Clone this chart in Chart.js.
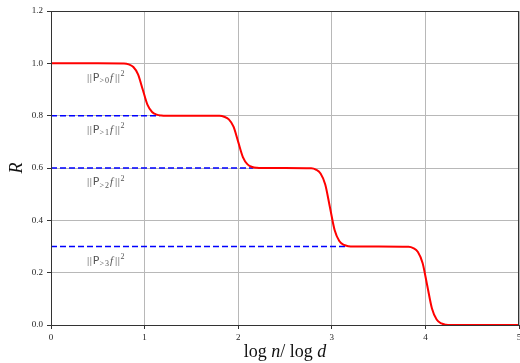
<!DOCTYPE html>
<html>
<head>
<meta charset="utf-8">
<script src="https://cdn.jsdelivr.net/npm/chart.js@4.4.1/dist/chart.umd.min.js"></script>
<style>
html,body{margin:0;padding:0;background:#fff;}
#wrap{width:520px;height:363px;position:relative;}
</style>
</head>
<body>
<div id="wrap"><canvas id="c" width="520" height="363"></canvas></div>
<script>
// ---- data ----
const curveX = [0, 0.5, 0.78, 0.83, 0.88, 0.93, 0.98, 1.03, 1.08, 1.13, 1.18, 1.23, 1.5,
                1.8, 1.85, 1.9, 1.95, 2.0, 2.05, 2.1, 2.15, 2.2, 2.25, 2.5,
                2.78, 2.83, 2.88, 2.93, 2.98, 3.03, 3.08, 3.13, 3.18, 3.23, 3.5,
                3.82, 3.87, 3.92, 3.97, 4.02, 4.07, 4.12, 4.17, 4.22, 4.27, 4.6, 5.0];
const curveR = [1.0, 1.0, 0.9993, 0.996, 0.986, 0.958, 0.9, 0.842, 0.814, 0.804, 0.8007, 0.8, 0.8,
                0.7993, 0.796, 0.786, 0.758, 0.7, 0.642, 0.614, 0.604, 0.6007, 0.6, 0.6,
                0.599, 0.594, 0.579, 0.537, 0.45, 0.363, 0.321, 0.306, 0.301, 0.3, 0.3,
                0.299, 0.294, 0.279, 0.237, 0.15, 0.063, 0.021, 0.006, 0.001, 0.0, 0.0, 0.0];
const levelValues = [0.8, 0.6, 0.3];
const levelEnds = [1.16, 2.16, 3.16];
const normLevels = [1.0, 0.8, 0.6, 0.3];
const normSubs = ['>0', '>1', '>2', '>3'];
const xTicks = [0, 1, 2, 3, 4, 5];
const yTicks = [0.0, 0.2, 0.4, 0.6, 0.8, 1.0, 1.2];

const datasets = [{
  data: curveX.map((x, i) => ({x: x, y: curveR[i]})),
  borderColor: '#ff0000', borderWidth: 2, pointRadius: 0,
  cubicInterpolationMode: 'monotone', fill: false, order: 0
}];
levelValues.forEach((v, i) => {
  datasets.push({
    data: [{x: 0, y: v}, {x: levelEnds[i], y: v}],
    borderColor: '#0000ff', borderWidth: 1.5, borderDash: [6, 3],
    pointRadius: 0, fill: false, order: 1
  });
});

const serif = '"Liberation Serif", "DejaVu Serif", serif';
const sans = '"DejaVu Sans", "Liberation Sans", sans-serif';

const decor = {
  id: 'decor',
  afterDraw(chart) {
    const ctx = chart.ctx, a = chart.chartArea;
    const xs = chart.scales.x, ys = chart.scales.y;
    ctx.save();
    // frame
    ctx.strokeStyle = '#333'; ctx.lineWidth = 1;
    ctx.strokeRect(a.left + 0.5, a.top + 0.5, a.right - a.left - 1, a.bottom - a.top);
    // norm labels
    ctx.fillStyle = '#555';
    ctx.textBaseline = 'alphabetic';
    normLevels.forEach((lv, i) => {
      let px = xs.getPixelForValue(0.385);
      const py = ys.getPixelForValue(lv - 0.066);
      const put = (t, f, dy, gap) => { ctx.font = f; ctx.fillText(t, px, py + (dy || 0)); px += ctx.measureText(t).width + (gap || 0); };
      put('|', '11px ' + serif, 0, 0.6);
      put('|', '11px ' + serif, 0, 0.6);
      put('P', '11px ' + sans, 0, 0.3);
      put(normSubs[i].charAt(0), '8px ' + serif, 2.5, 0.8);
      put(normSubs[i].charAt(1), '8px ' + serif, 2.5, 1.2);
      put('f', 'italic 11px ' + serif, 0, 1.8);
      put('|', '11px ' + serif, 0, 0.6);
      put('|', '11px ' + serif, 0, 0.6);
      put('2', '8px ' + serif, -4.5);
    });
    // x title
    ctx.fillStyle = '#111';
    const parts = [['log ', '18px ' + serif], ['n', 'italic 18px ' + serif], ['/ log ', '18px ' + serif], ['d', 'italic 18px ' + serif]];
    let w = 0;
    parts.forEach(p => { ctx.font = p[1]; w += ctx.measureText(p[0]).width; });
    let px = (a.left + a.right) / 2 - w / 2;
    parts.forEach(p => { ctx.font = p[1]; ctx.fillText(p[0], px, 357); px += ctx.measureText(p[0]).width; });
    // y title
    ctx.translate(22, (a.top + a.bottom) / 2);
    ctx.rotate(-Math.PI / 2);
    ctx.font = 'italic 18px ' + serif;
    ctx.textAlign = 'center';
    ctx.fillText('R', 0, 0);
    ctx.restore();
  }
};

new Chart(document.getElementById('c'), {
  type: 'line',
  data: {datasets: datasets},
  options: {
    responsive: false, animation: false,
    layout: {padding: {top: 11, right: 1, left: 0, bottom: 0}},
    plugins: {legend: {display: false}, tooltip: {enabled: false}},
    scales: {
      x: {
        type: 'linear', min: 0, max: 5,
        afterBuildTicks: s => { s.ticks = xTicks.map(v => ({value: v})); },
        afterFit: s => { s.height = 38; s.paddingLeft = 0; s.paddingRight = 0; },
        ticks: {color: '#222', font: {family: serif, size: 9}, padding: 3, maxRotation: 0,
                callback: v => String(v)},
        grid: {color: '#b8b8b8', lineWidth: 1, tickColor: '#333', tickLength: 4},
        border: {color: '#333', width: 1}
      },
      y: {
        type: 'linear', min: 0, max: 1.2,
        afterBuildTicks: s => { s.ticks = yTicks.map(v => ({value: v})); },
        afterFit: s => { s.width = 51; s.paddingTop = 0; s.paddingBottom = 0; },
        ticks: {color: '#222', font: {family: serif, size: 9}, padding: 4,
                callback: v => Number(v).toFixed(1)},
        grid: {color: '#b8b8b8', lineWidth: 1, tickColor: '#333', tickLength: 4},
        border: {color: '#333', width: 1}
      }
    }
  },
  plugins: [decor]
});
</script>
</body>
</html>
